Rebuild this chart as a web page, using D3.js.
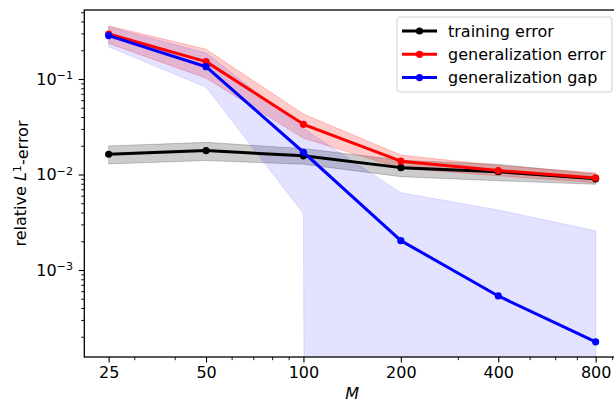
<!DOCTYPE html>
<html>
<head>
<meta charset="utf-8">
<script src="https://cdn.jsdelivr.net/npm/d3@7"></script>
<style>
  body { margin: 0; background: #fff; }
  svg { display: block; font-family: "DejaVu Sans", sans-serif; }
</style>
</head>
<body>
<div id="chart"></div>
<script>
// data (M = sample count, values = relative L1 error)
const M = [25, 50, 100, 200, 400, 800];

const trainMean = [0.0163, 0.0178, 0.0157, 0.0118, 0.0107, 0.0090];
const trainLow  = [0.0129, 0.0140, 0.0128, 0.0095, 0.0086, 0.0079];
const trainHigh = [0.0199, 0.0217, 0.0187, 0.0141, 0.0128, 0.0101];

const genMean = [0.296, 0.152, 0.0335, 0.0138, 0.0110, 0.0092];
const genLow  = [0.236, 0.102, 0.0240, 0.0116, 0.0097, 0.0082];
const genHigh = [0.360, 0.205, 0.0430, 0.0160, 0.0124, 0.0104];

// gap band: lower bound goes negative from M=200 on (null = clipped on log axis)
const gapMean = [0.285, 0.1345, 0.0171, 0.00203, 0.000535, 0.000177];
const gapLow  = [0.218, 0.082, 0.0039, null, null, null];
const gapHigh = [0.352, 0.187, 0.0303, 0.00645, 0.00425, 0.00257];

const xTicks = [25, 50, 100, 200, 400, 800];
const xMinor = [30, 40, 60, 70, 80, 90, 300, 500, 600, 700, 900];
const yTicks = [1e-1, 1e-2, 1e-3];

const series = [
  {name: "training error",       color: "#000000", band: 0.2,  mean: trainMean, low: trainLow, high: trainHigh},
  {name: "generalization error", color: "#ff0000", band: 0.2,  mean: genMean,   low: genLow,   high: genHigh},
  {name: "generalization gap",   color: "#0000ff", band: 0.11, mean: gapMean,   low: gapLow,   high: gapHigh}
];

const width = 614, height = 403;
const mLeft = 84.3, mRight = 620, mTop = 10, mBottom = 357;

const svg = d3.select("#chart").append("svg")
  .attr("width", width)
  .attr("height", height);

const x = d3.scaleLog().domain([25 / Math.pow(2, 0.25), 800 * Math.pow(2, 0.25)]).range([mLeft, mRight]);
const y = d3.scaleLog().domain([Math.pow(10, -3.911), Math.pow(10, -0.2775)]).range([mBottom, mTop]);

svg.append("defs").append("clipPath").attr("id", "plotclip")
  .append("rect")
    .attr("x", mLeft).attr("y", mTop)
    .attr("width", mRight - mLeft).attr("height", mBottom - mTop);

const plot = svg.append("g").attr("clip-path", "url(#plotclip)");

const floorVal = 1e-300;
const area = d3.area()
  .x(d => x(d.m))
  .y0(d => y(d.lo == null ? floorVal : d.lo))
  .y1(d => y(d.hi));

const line = d3.line()
  .x(d => x(d.m))
  .y(d => y(d.v));

// bands first
series.forEach(s => {
  const pts = M.map((m, i) => ({m: m, lo: s.low[i], hi: s.high[i]}));
  plot.append("path")
    .datum(pts)
    .attr("d", area)
    .attr("fill", s.color)
    .attr("fill-opacity", s.band)
    .attr("stroke", s.color)
    .attr("stroke-opacity", s.band)
    .attr("stroke-width", 1);
});

// lines + markers
series.forEach(s => {
  const pts = M.map((m, i) => ({m: m, v: s.mean[i]}));
  plot.append("path")
    .datum(pts)
    .attr("d", line)
    .attr("fill", "none")
    .attr("stroke", s.color)
    .attr("stroke-width", 3)
    .attr("stroke-linejoin", "round");
  plot.selectAll(null)
    .data(pts)
    .enter().append("circle")
      .attr("cx", d => x(d.m))
      .attr("cy", d => y(d.v))
      .attr("r", 3.6)
      .attr("fill", s.color);
});

// axes
const tickLen = 5.6, minorLen = 3.2, fs = 16;

const xAxis = svg.append("g")
  .attr("transform", `translate(0,${mBottom})`)
  .call(d3.axisBottom(x).tickValues(xTicks).tickFormat(d3.format("d"))
    .tickSize(tickLen).tickPadding(4.5));
xAxis.select(".domain").remove();
xAxis.selectAll("line").attr("stroke", "#000").attr("stroke-width", 1.1);
xAxis.selectAll("text").attr("font-size", fs).attr("fill", "#000").attr("font-family", "DejaVu Sans");

const xMin = svg.append("g")
  .attr("transform", `translate(0,${mBottom})`)
  .call(d3.axisBottom(x).tickValues(xMinor).tickFormat("").tickSize(minorLen));
xMin.select(".domain").remove();
xMin.selectAll("line").attr("stroke", "#000").attr("stroke-width", 0.9);

const yAxis = svg.append("g")
  .attr("transform", `translate(${mLeft},0)`)
  .call(d3.axisLeft(y).tickValues(yTicks).tickSize(tickLen).tickPadding(5.6));
yAxis.select(".domain").remove();
yAxis.selectAll("line").attr("stroke", "#000").attr("stroke-width", 1.1);
yAxis.selectAll(".tick text")
  .attr("font-size", fs)
  .attr("fill", "#000")
  .attr("font-family", "DejaVu Sans")
  .each(function(d) {
    const t = d3.select(this);
    t.text("10");
    t.append("tspan")
      .attr("dy", "-0.5em")
      .attr("font-size", "0.7em")
      .text("\u2212" + Math.round(-Math.log10(d)));
  });

const yMinorVals = [];
[-4, -3, -2, -1].forEach(e => {
  for (let k = 2; k <= 9; k++) {
    const v = k * Math.pow(10, e);
    if (v >= y.domain()[0] && v <= y.domain()[1]) yMinorVals.push(v);
  }
});
const yMin = svg.append("g")
  .attr("transform", `translate(${mLeft},0)`)
  .call(d3.axisLeft(y).tickValues(yMinorVals).tickFormat("").tickSize(minorLen));
yMin.select(".domain").remove();
yMin.selectAll("line").attr("stroke", "#000").attr("stroke-width", 0.9);

// spines
svg.append("rect")
  .attr("x", mLeft).attr("y", mTop)
  .attr("width", mRight - mLeft).attr("height", mBottom - mTop)
  .attr("fill", "none")
  .attr("stroke", "#000")
  .attr("stroke-width", 1.3);

// axis labels
svg.append("text")
  .attr("x", (mLeft + mRight) / 2)
  .attr("y", 399)
  .attr("text-anchor", "middle")
  .attr("font-size", fs)
  .attr("font-style", "italic")
  .text("M");

const yl = svg.append("text")
  .attr("transform", "rotate(-90)")
  .attr("x", -(mTop + mBottom) / 2)
  .attr("y", 26)
  .attr("text-anchor", "middle")
  .attr("font-size", fs);
yl.append("tspan").text("relative ");
yl.append("tspan").attr("font-style", "italic").text("L");
yl.append("tspan").attr("dy", "-0.45em").attr("font-size", "0.7em").text("1");
yl.append("tspan").attr("dy", "0.45em").text("-error");

// legend
const legend = svg.append("g").attr("transform", "translate(397,17)");
legend.append("rect")
  .attr("width", 215).attr("height", 75)
  .attr("rx", 3)
  .attr("fill", "#fff").attr("fill-opacity", 0.8)
  .attr("stroke", "#d0d0d0").attr("stroke-width", 1);

const rows = legend.selectAll(".item")
  .data(series)
  .enter().append("g")
    .attr("transform", (d, i) => `translate(0,${14 + i * 23.3})`);
rows.append("line")
  .attr("x1", 5).attr("x2", 40)
  .attr("stroke", d => d.color)
  .attr("stroke-width", 3);
rows.append("circle")
  .attr("cx", 22.5).attr("r", 3.6)
  .attr("fill", d => d.color);
rows.append("text")
  .attr("x", 51)
  .attr("dy", "0.36em")
  .attr("font-size", fs)
  .attr("fill", "#000")
  .text(d => d.name);
</script>
</body>
</html>
